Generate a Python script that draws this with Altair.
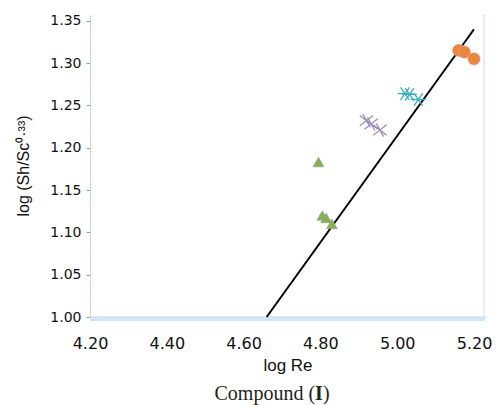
import altair as alt
import pandas as pd

# Data
circ_x = [5.160, 5.175, 5.200]
circ_y = [1.315, 1.313, 1.305]
ast_x = [5.020, 5.032, 5.055]
ast_y = [1.264, 1.263, 1.257]
cross_x = [4.920, 4.932, 4.955]
cross_y = [1.232, 1.228, 1.221]
tri_x = [4.795, 4.805, 4.815, 4.830]
tri_y = [1.183, 1.120, 1.117, 1.110]
line_x = [4.66, 5.20]
line_y = [1.00, 1.34]

x_ticks = [4.2, 4.4, 4.6, 4.8, 5.0, 5.2]
y_ticks = [1.00, 1.05, 1.10, 1.15, 1.20, 1.25, 1.30, 1.35]

W, H = 395, 303
xs = alt.Scale(domain=[4.2, 5.2286], nice=False, zero=False)
ys = alt.Scale(domain=[1.0, 1.358], nice=False, zero=False)

xax = alt.Axis(values=x_ticks, format=".2f", title="log Re", ticks=False,
               grid=False, domainColor="#a0a0a0", domainWidth=1.5, labelFlush=False,
               labelFontSize=16, labelPadding=18, titleFontSize=17,
               titleFontWeight="normal", titlePadding=6, labelColor="#111",
               titleColor="#111", labelFont="DejaVu Sans", titleFont="Liberation Sans")
yax = alt.Axis(values=y_ticks, format=".2f", title="log (Sh/Sc⁰·³³)", labelFlush=False,
               grid=False, domainColor="#9fd69f", domainDash=[2, 1], tickColor="#999",
               tickSize=4, labelFontSize=14, labelPadding=5, titleFontSize=16,
               titleFontWeight="normal", titlePadding=18, labelColor="#111",
               titleColor="#111", labelFont="DejaVu Sans", titleFont="Liberation Sans")

def df(x, y):
    return pd.DataFrame({"x": x, "y": y})

base_line = alt.Chart(df(line_x, line_y)).mark_line(color="black", strokeWidth=2).encode(
    x=alt.X("x:Q", scale=xs, axis=xax), y=alt.Y("y:Q", scale=ys, axis=yax))

circles = alt.Chart(df(circ_x, circ_y)).mark_point(
    shape="circle", filled=True, size=150, color="#E8873A", opacity=1,
    stroke="#E59AB0", strokeWidth=0.6).encode(x=alt.X("x:Q", scale=xs), y=alt.Y("y:Q", scale=ys))

ast_path = "M-1,0L1,0M-0.6,-0.85L0.6,0.85M-0.6,0.85L0.6,-0.85"
asts = alt.Chart(df(ast_x, ast_y)).mark_point(
    shape=ast_path, filled=False, size=220, color="#3AAFC2", strokeWidth=1.3, opacity=1).encode(
    x=alt.X("x:Q", scale=xs), y=alt.Y("y:Q", scale=ys))

cross_path = "M-0.9,-0.7L0.9,0.7M-0.9,0.7L0.9,-0.7M-0.5,-0.9L0.5,0.9"
crosses = alt.Chart(df(cross_x, cross_y)).mark_point(
    shape=cross_path, filled=False, size=220, color="#9C8FB8", strokeWidth=1.3, opacity=1).encode(
    x=alt.X("x:Q", scale=xs), y=alt.Y("y:Q", scale=ys))

tris = alt.Chart(df(tri_x, tri_y)).mark_point(
    shape="triangle-up", filled=True, size=120, color="#8BAF4C", opacity=1,
    stroke="#7FA0B8", strokeWidth=0.6).encode(x=alt.X("x:Q", scale=xs), y=alt.Y("y:Q", scale=ys))

cap_y = 380
cap1 = alt.Chart(pd.DataFrame({"t": ["Compound ("]})).mark_text(
    font="Liberation Serif", fontSize=20, color="#222", align="left", baseline="middle").encode(
    x=alt.value(124.5), y=alt.value(cap_y), text="t:N")
cap2 = alt.Chart(pd.DataFrame({"t": ["I"]})).mark_text(
    font="Liberation Serif", fontSize=20, fontWeight="bold", color="#222", align="left",
    baseline="middle").encode(x=alt.value(225.1), y=alt.value(cap_y), text="t:N")
cap3 = alt.Chart(pd.DataFrame({"t": [")"]})).mark_text(
    font="Liberation Serif", fontSize=20, color="#222", align="left", baseline="middle").encode(
    x=alt.value(232.9), y=alt.value(cap_y), text="t:N")

border = alt.Chart(pd.DataFrame({"a": [0]})).mark_rule(color="#f0d0e8", strokeWidth=1).encode(
    x=alt.value(W - 1), y=alt.value(0), y2=alt.value(H))
band = alt.Chart(pd.DataFrame({"a": [0]})).mark_rule(color="#cfe6f7", strokeWidth=4).encode(
    x=alt.value(0), x2=alt.value(W), y=alt.value(H + 2))

chart = alt.layer(border, band, base_line, circles, asts, crosses, tris, cap1, cap2, cap3).properties(
    width=W, height=H,
    autosize=alt.AutoSizeParams(type="none"),
    padding={"left": 82, "top": 6, "right": 8, "bottom": 90},
).configure_view(stroke=None)

chart.save("out.html", embed_options={"renderer": "svg", "actions": False})
